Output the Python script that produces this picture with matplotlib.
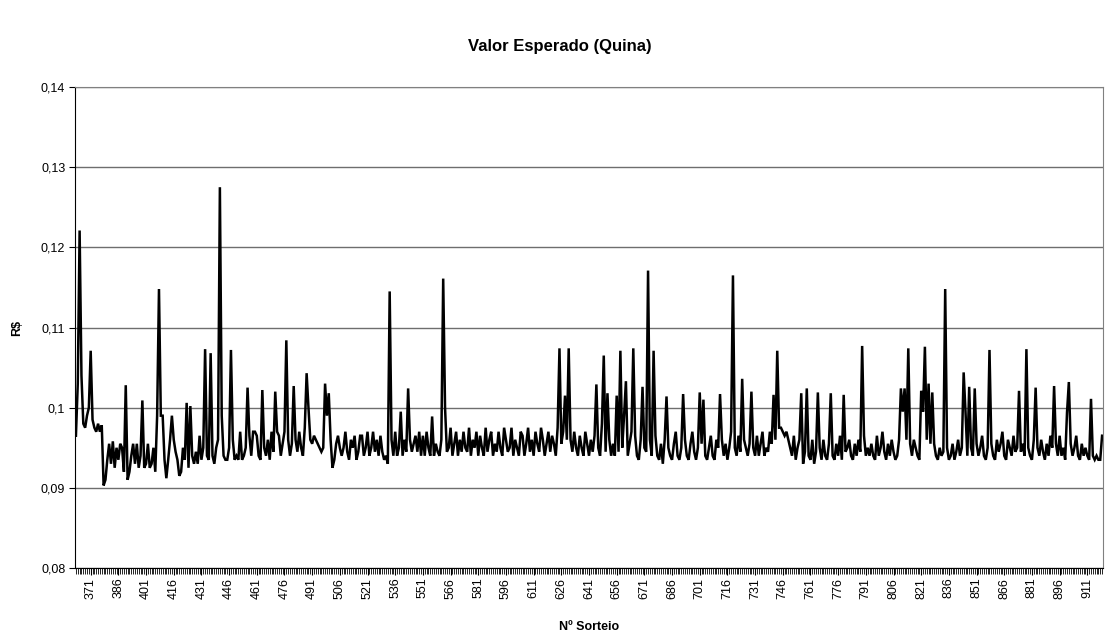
import numpy as np
import matplotlib
matplotlib.use("Agg")
import matplotlib.pyplot as plt
from matplotlib.ticker import MultipleLocator

plt.rcParams['font.family'] = ['Liberation Sans', 'DejaVu Sans']

# expected value per draw (x 1/1000 R$)
values_milli = [
    96.5, 103.0, 122.1, 104.0, 98.0, 97.5, 99.0, 100.0, 107.1, 98.5,
    97.5, 97.0, 98.0, 97.0, 97.8, 90.3, 91.0, 93.5, 95.5, 93.0,
    95.8, 92.5, 95.0, 93.5, 95.5, 95.0, 92.0, 102.8, 91.0, 92.0,
    94.0, 95.5, 93.0, 95.5, 92.5, 94.0, 100.9, 92.5, 93.0, 95.5,
    92.5, 93.0, 95.0, 92.0, 99.0, 114.8, 99.0, 99.0, 93.5, 91.2,
    93.5, 96.0, 99.0, 96.0, 94.5, 93.5, 91.5, 92.0, 95.0, 93.5,
    100.6, 92.5, 100.2, 94.0, 93.0, 94.5, 93.0, 96.5, 93.5, 95.0,
    107.3, 94.0, 93.5, 106.8, 94.0, 93.0, 95.0, 96.0, 127.5, 99.0,
    94.0, 93.5, 93.5, 95.0, 107.2, 96.0, 93.5, 94.0, 93.5, 97.0,
    93.5, 94.0, 95.0, 102.5, 96.5, 94.0, 97.0, 97.0, 96.5, 94.0,
    93.5, 102.2, 95.0, 94.0, 96.0, 93.5, 97.0, 94.5, 102.0, 97.0,
    96.5, 94.0, 95.5, 97.0, 108.4, 96.0, 94.0, 95.5, 102.7, 96.0,
    94.5, 97.0, 95.0, 94.0, 97.5, 104.3, 100.0, 96.0, 95.5, 96.5,
    96.0, 95.5, 95.0, 94.5, 95.0, 103.0, 99.0, 101.8, 96.0, 92.5,
    93.5, 95.5, 96.5, 95.0, 94.0, 95.0, 97.0, 94.5, 93.5, 96.0,
    95.0, 96.5, 93.5, 94.5, 96.5, 96.5, 94.0, 95.0, 97.0, 94.0,
    95.0, 97.0, 94.5, 96.0, 94.0, 96.5, 94.5, 93.5, 94.0, 93.0,
    114.5, 96.0, 94.0, 97.0, 94.0, 95.0, 99.5, 94.0, 96.0, 94.5,
    102.4, 96.0, 94.5, 95.5, 96.5, 94.5, 97.0, 94.0, 96.5, 94.0,
    97.0, 95.0, 94.0, 98.9, 94.0, 95.5, 94.5, 94.0, 96.0, 116.1,
    100.0, 94.5, 95.0, 97.5, 94.0, 95.5, 97.0, 94.0, 96.0, 94.5,
    97.0, 95.0, 94.5, 97.5, 94.0, 96.0, 95.0, 97.0, 94.0, 96.5,
    95.0, 94.0, 97.5, 94.5, 96.0, 97.0, 94.0, 95.5, 94.5, 97.0,
    95.0, 94.0, 97.5, 96.0, 94.5, 95.0, 97.5, 94.0, 96.0, 95.0,
    94.0, 97.0, 96.5, 94.0, 95.5, 97.5, 94.5, 96.0, 94.0, 97.0,
    95.5, 94.5, 97.5, 96.0, 94.0, 95.5, 97.0, 94.5, 96.5, 95.5,
    94.0, 97.5, 107.4, 95.5, 97.0, 101.5, 96.0, 107.4, 96.0, 94.5,
    97.0, 95.0, 94.0, 96.5, 95.0, 94.0, 97.0, 95.5, 94.0, 96.0,
    94.5, 96.5, 102.9, 95.0, 94.0, 98.0, 106.5, 94.5, 101.8, 96.0,
    94.0, 95.5, 94.0, 101.5, 94.5, 107.1, 95.0, 99.0, 103.3, 94.0,
    95.5, 97.0, 107.4, 96.5, 94.0, 93.5, 96.0, 102.6, 95.0, 94.5,
    117.1, 96.0, 94.0, 107.1, 96.5, 94.0, 93.5, 95.5, 93.0, 96.0,
    101.4, 95.0, 94.0, 93.5, 95.5, 97.0, 94.0, 93.5, 95.0, 101.7,
    96.0, 94.0, 93.5, 95.5, 97.0, 94.5, 93.5, 95.0, 101.9, 95.5,
    101.0, 94.0, 93.5, 95.0, 96.5, 94.0, 93.5, 96.0, 95.0, 101.7,
    96.0, 94.0, 95.5, 93.5, 95.0, 97.0, 116.5, 95.0, 94.0, 96.5,
    94.5, 103.6, 96.0, 95.0, 94.0, 95.5, 102.0, 95.0, 94.0, 96.5,
    94.0, 95.5, 97.0, 94.0, 95.0, 94.5, 97.0, 95.5, 101.6, 96.0,
    107.1, 97.5, 97.5, 97.0, 96.5, 97.0, 96.0, 95.0, 94.0, 96.5,
    93.5, 95.0, 96.0, 101.8, 93.0, 94.5, 102.4, 94.0, 93.5, 96.0,
    93.0, 94.5, 101.9, 95.0, 93.5, 96.0, 94.0, 93.5, 95.5, 101.8,
    94.0, 93.5, 95.5, 94.0, 96.5, 93.5, 101.6, 94.5, 95.0, 96.0,
    94.0, 93.5, 95.5, 94.0, 96.0, 94.5, 107.7, 96.5, 94.0, 95.0,
    94.0, 95.5, 94.0, 93.5, 96.5, 94.0, 95.0, 97.0, 94.5, 93.5,
    95.5, 94.0, 96.0, 94.5, 93.5, 94.0, 96.0, 102.4, 99.5, 102.4,
    96.0, 107.4, 95.5, 94.0, 96.0, 95.0, 94.0, 93.5, 102.1, 99.5,
    107.6, 96.0, 103.0, 95.5, 101.9, 95.5, 94.0, 93.5, 95.0, 94.0,
    94.5, 114.8, 95.0, 93.5, 94.0, 95.5, 93.5, 94.5, 96.0, 94.0,
    95.0, 104.4, 99.5, 94.0, 102.6, 95.0, 94.0, 102.4, 95.5, 94.0,
    95.0, 96.5, 94.0, 93.5, 95.0, 107.2, 95.5, 94.0, 93.5, 96.0,
    94.5, 95.5, 97.0, 94.0, 93.5, 96.0, 95.0, 94.0, 96.5, 94.5,
    95.0, 102.1, 94.5, 95.5, 94.0, 107.3, 95.0, 94.0, 93.5, 96.0,
    102.5, 95.0, 94.0, 96.0, 94.5, 93.5, 95.5, 94.0, 96.5, 95.0,
    102.7, 95.5, 94.0, 96.5, 94.0, 95.0, 93.5, 99.4, 103.2, 95.5,
    94.0, 95.0, 96.5, 94.0, 93.5, 95.5, 94.0, 95.0, 94.0, 93.5,
    101.1, 94.0, 93.5, 94.0, 93.5, 93.5, 96.5,
]
first_draw = 363
draws = np.arange(first_draw, first_draw + len(values_milli))
values = np.array(values_milli) / 1000.0

xtick_draws = list(range(371, 912, 15))
xtick_labels = [str(d) for d in xtick_draws]
ytick_values = [0.08, 0.09, 0.10, 0.11, 0.12, 0.13, 0.14]
ytick_labels = ["0,08", "0,09", "0,1", "0,11", "0,12", "0,13", "0,14"]

title = "Valor Esperado (Quina)"
xlabel = "Nº Sorteio"
ylabel = "R$"

fig = plt.figure(figsize=(11.19, 6.36), dpi=100)
ax = fig.add_axes([75/1119, 1 - 568/636, (1103-75)/1119, (568-87)/636])

ax.plot(draws, values, color='black', linewidth=1.8, solid_joinstyle='miter')

ax.set_xlim(draws[0] - 0.5, draws[-1] + 0.5)
ax.set_ylim(0.08, 0.14)
ax.set_yticks(ytick_values)
ax.set_yticklabels(ytick_labels, fontsize=9)
ax.set_xticks(xtick_draws)
ax.set_xticklabels(xtick_labels, rotation=90, fontsize=9)
ax.xaxis.set_minor_locator(MultipleLocator(1))
ax.tick_params(axis='x', which='major', direction='out', length=5, width=0.8, pad=2)
ax.tick_params(axis='x', which='minor', direction='out', length=4, width=0.6)
ax.tick_params(axis='y', which='major', direction='out', length=4, width=0.8, pad=3)

ax.grid(axis='y', color='#6e6e6e', linewidth=1.0)
ax.set_axisbelow(True)
for s in ax.spines.values():
    s.set_color('#808080')
    s.set_linewidth(0.8)
ax.spines['left'].set_color('black')
ax.spines['bottom'].set_color('black')

fig.text(0.5, 1 - 47/636, title, ha='center', va='center', fontsize=12, fontweight='bold')
fig.text(17/1119, 1 - 328/636, ylabel, ha='center', va='center', rotation=90, fontsize=9, fontweight='bold')
fig.text((75+1103)/2/1119, 1 - 627/636, xlabel, ha='center', va='center', fontsize=9, fontweight='bold')

fig.savefig("out.png", dpi=100, facecolor='white')
